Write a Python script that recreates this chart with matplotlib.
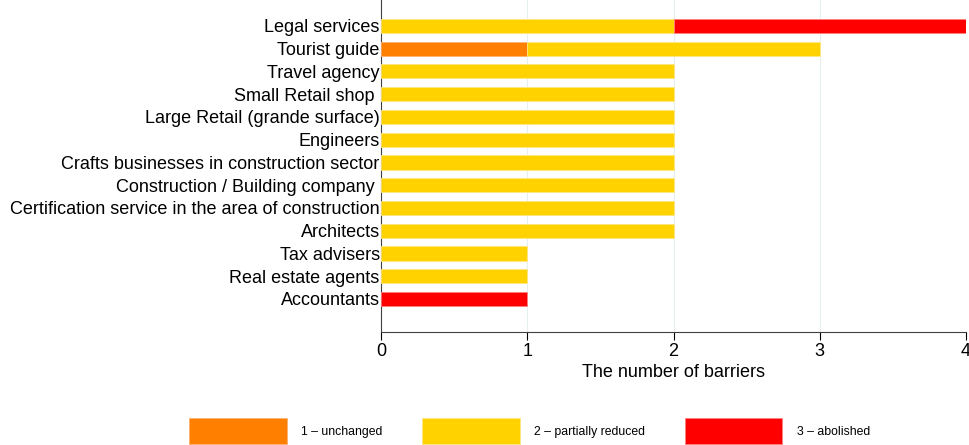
import numpy as np
import matplotlib
matplotlib.use("Agg")
import matplotlib.pyplot as plt
from matplotlib.patches import Patch, Rectangle
from matplotlib.legend_handler import HandlerPatch

plt.rcParams['font.family'] = ['Liberation Sans', 'DejaVu Sans']

# Datos
categories = ["Legal services", "Tourist guide", "Travel agency", "Small Retail shop ",
              "Large Retail (grande surface)", "Engineers",
              "Crafts businesses in construction sector", "Construction / Building company ",
              "Certification service in the area of construction", "Architects",
              "Tax advisers", "Real estate agents", "Accountants"]
unchanged = [0, 1, 0, 0, 0, 0, 0, 0, 0, 0, 0, 0, 0]
partially_reduced = [2, 2, 2, 2, 2, 2, 2, 2, 2, 2, 1, 1, 0]
abolished = [2, 0, 0, 0, 0, 0, 0, 0, 0, 0, 0, 0, 1]
series_labels = ["1 \u2013 unchanged", "2 \u2013 partially reduced", "3 \u2013 abolished"]
colors = ["#FF8000", "#FFD200", "#FF0000"]
edges = ["#FFB070", "#FFE680", "#FF8080"]

fig = plt.figure(figsize=(9.7, 4.45), dpi=100)
ax = fig.add_axes([0.3928, 0.254, 0.6031, 0.746])

y = np.arange(len(categories))
left = np.zeros(len(categories))
for vals, c, ec in zip([unchanged, partially_reduced, abolished], colors, edges):
    vals = np.array(vals, dtype=float)
    m = vals > 0  # no dibujar barras vacías
    ax.barh(y[m], vals[m], left=left[m], height=0.62, color=c, edgecolor=ec,
            linewidth=0.6, zorder=3)
    left += vals

ax.set_ylim(12 + 1.45, -1.14)
ax.set_xlim(0, 4)
ax.set_xticks([0, 1, 2, 3, 4])
ax.set_yticks(y)
ax.set_yticklabels(categories, fontsize=13)
ax.tick_params(axis='y', length=0, pad=1)
ax.tick_params(axis='x', labelsize=13, length=6, direction='out', width=0.8, pad=2)
ax.grid(axis='x', color='#E6EEF0', linewidth=0.8, zorder=0)
ax.spines['top'].set_visible(False)
ax.spines['right'].set_visible(False)
ax.spines['left'].set_color('#404040')
ax.spines['bottom'].set_color('#404040')
ax.set_xlabel("The number of barriers", fontsize=13, labelpad=3)


# Rectángulo de leyenda alto, centrado sobre el texto
def tall_patch(legend, orig_handle, xdescent, ydescent, width, height, fontsize):
    h = 18.7  # puntos (~26 px)
    return Rectangle((-xdescent, fontsize * 0.35 - h / 2), width, h)


handles = [Patch(facecolor=c, edgecolor=ec, linewidth=0.6) for c, ec in zip(colors, edges)]
fig.legend(handles, series_labels, loc='lower center', bbox_to_anchor=(0.546, 0.016), ncol=3,
           frameon=False, fontsize=8.8, handlelength=8.0, handleheight=0.7,
           columnspacing=3.2, handletextpad=1.2, borderpad=0.0, borderaxespad=0.0,
           handler_map={Patch: HandlerPatch(patch_func=tall_patch)})

fig.savefig("out.png", dpi=100)
